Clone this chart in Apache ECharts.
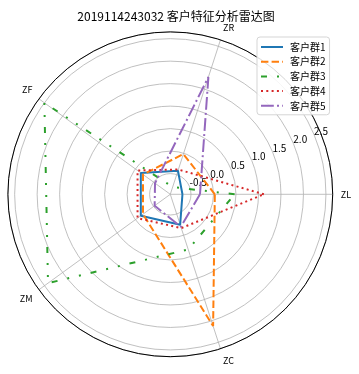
<!DOCTYPE html>
<html>
<head>
<meta charset="utf-8">
<script src="https://cdn.jsdelivr.net/npm/echarts@6/dist/echarts.min.js"></script>
<style>html,body{margin:0;padding:0;background:#fff}#c{width:359px;height:374px}</style>
</head>
<body>
<div id="c"></div>
<script>
const titleText = '2019114243032 客户特征分析雷达图';
const cats = ['ZL', 'ZR', 'ZF', 'ZM', 'ZC'];
const names = ['客户群1', '客户群2', '客户群3', '客户群4', '客户群5'];
const g1 = [-0.69, -0.41, -0.15, -0.15, -0.25];
const g2 = [0.03, -0.02, -0.21, -0.21, 2.12];
const g3 = [0.47, -0.79, 2.50, 2.40, 0.33];
const g4 = [1.12, -0.38, -0.06, -0.06, -0.17];
const g5 = [-0.30, 1.78, -0.54, -0.53, -0.20];
const rTickLabels = ['-0.5', '0.0', '0.5', '1.0', '1.5', '2.0', '2.5'];

const groups = [g1, g2, g3, g4, g5];
const colors = ['#1f77b4', '#ff7f0e', '#2ca02c', '#d62728', '#9467bd'];
const dashes = ['solid', [7.4, 3.2], [6, 10, 2, 10, 2, 10], [2, 3.3], [12.8, 3.2, 2, 3.2]];
const FONT = '"Noto Sans CJK SC", "DejaVu Sans", sans-serif';
const CENTER = [170.3, 194.3];
const RADIUS = 162.4;

function toPolar(vals) {
  const n = cats.length;
  const d = vals.map((v, i) => [v, i * 360 / n]);
  d.push([vals[0], 360]);
  return d;
}

const rCommon = { type: 'value', min: -0.96, max: 2.65, splitNumber: 7, minInterval: 0.5, maxInterval: 0.5 };

const chart = echarts.init(document.getElementById('c'), null, { renderer: 'canvas' });
chart.setOption({
  backgroundColor: '#fff',
  animation: false,
  textStyle: { fontFamily: FONT },
  title: {
    text: titleText, left: 171, top: 5, textAlign: 'center',
    textStyle: { fontSize: 12, fontWeight: 'normal', color: '#000', fontFamily: FONT }
  },
  legend: {
    data: names, orient: 'vertical', left: 257, top: 37,
    itemWidth: 22, itemHeight: 10, itemGap: 4.7,
    padding: [5, 4, 4, 3],
    borderColor: '#d5d5d5', borderWidth: 1, borderRadius: 3,
    backgroundColor: 'rgba(255,255,255,0.85)',
    itemStyle: { opacity: 0 },
    textStyle: { fontSize: 10, color: '#000', fontFamily: FONT, padding: [0, 0, 0, 2] }
  },
  polar: [
    { center: CENTER, radius: RADIUS },
    { center: CENTER, radius: RADIUS }
  ],
  angleAxis: [
    {
      polarIndex: 0, type: 'value', min: 0, max: 360, interval: 72, startAngle: 0, clockwise: false,
      axisLine: { show: true, lineStyle: { color: '#000', width: 1 } },
      axisTick: { show: false },
      axisLabel: {
        margin: 8, fontSize: 9, color: '#000', fontFamily: FONT,
        formatter: v => (v < 360 ? cats[Math.round(v / 72)] : '')
      },
      splitLine: { show: true, lineStyle: { color: '#b0b0b0', width: 0.8 } }
    },
    {
      polarIndex: 1, type: 'value', min: 0, max: 360, interval: 72, startAngle: 22.5, clockwise: false,
      axisLine: { show: false }, axisTick: { show: false }, axisLabel: { show: false }, splitLine: { show: false }
    }
  ],
  radiusAxis: [
    Object.assign({}, rCommon, {
      polarIndex: 0,
      axisLine: { show: false }, axisTick: { show: false }, axisLabel: { show: false },
      splitLine: { show: true, lineStyle: { color: '#b0b0b0', width: 0.8 } }
    }),
    Object.assign({}, rCommon, {
      polarIndex: 1,
      axisLine: { show: false }, axisTick: { show: false }, splitLine: { show: false },
      axisLabel: {
        show: true, margin: 0, align: 'left', verticalAlign: 'bottom', lineHeight: 8,
        fontSize: 10, color: '#000', fontFamily: FONT,
        showMinLabel: false, showMaxLabel: false,
        formatter: v => { const s = (Math.round(v * 10) / 10).toFixed(1); return rTickLabels.indexOf(s) >= 0 && Math.abs(v - parseFloat(s)) < 1e-6 ? s : ''; }
      }
    })
  ],
  series: groups.map((g, i) => ({
    name: names[i], type: 'line', coordinateSystem: 'polar', polarIndex: 0,
    data: toPolar(g), symbol: 'none', smooth: false,
    lineStyle: { color: colors[i], width: 2, type: dashes[i], cap: 'butt' },
    itemStyle: { color: colors[i] }
  }))
});
</script>
</body>
</html>
